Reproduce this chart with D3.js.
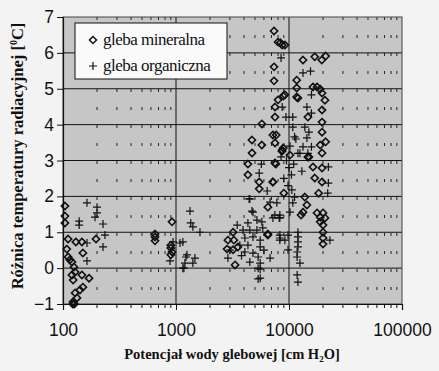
<!DOCTYPE html>
<html>
<head>
<meta charset="utf-8">
<script src="https://cdn.jsdelivr.net/npm/d3@7"></script>
<style>
  body { margin: 0; background: #f3f3f3; }
  svg { display: block; }
</style>
</head>
<body>
<svg id="chart"></svg>
<script>
// gleba mineralna (diamonds)
const mineralX = [104,104,104,111,130,147,196,108,150,111,115,120,125,128,120,147,170,123,150,141,128,133,123,126,122,
  652,652,652,922,900,900,922,900,
  4708,4330,4330,5450,5450,7200,6500,8660,7650,3200,2880,3250,2830,3200,3530,3330,6500,6500,
  7370,8000,8400,8700,9200,7370,7370,13300,16900,19500,21100,11700,11700,11700,16300,17700,18900,19600,20800,
  8900,8000,7520,7520,12000,19600,19600,19600,21100,5750,14700,7700,7520,8900,5750,4700,18900,14700,9200,7200,8700,10200,
  19600,15000,16300,19600,16900,19600,18300,13800,14400,13300,12800,9000,7500,7200,17700,20000,18900,20800,18900,20000,20000,20000,20000];
const mineralY = [1.73,1.45,1.26,0.81,0.73,0.73,0.81,0.53,0.42,0.31,0.23,0.17,0.03,-0.11,-0.19,-0.19,-0.28,-0.33,-0.53,-0.61,-0.69,-0.83,-0.94,-1.0,-1.0,
  0.95,0.87,0.76,1.29,0.64,0.56,0.45,0.37,
  3.21,2.9,2.6,2.4,2.21,2.4,1.7,3.26,2.9,1.0,0.78,0.78,0.53,0.51,0.59,0.09,0.92,0.95,
  6.61,6.3,6.28,6.22,6.22,5.61,5.22,5.8,5.89,5.8,5.91,5.24,5.02,4.77,5.05,5.05,4.99,4.88,4.68,
  4.8,4.69,4.49,4.21,4.74,4.41,4.07,3.79,3.52,4.02,4.21,3.71,3.49,3.35,3.43,3.57,3.43,3.1,4.83,3.71,3.29,3.15,
  3.21,3.1,2.82,2.79,2.51,2.4,2.09,1.98,1.76,1.56,1.48,2.09,2.93,2.4,1.54,1.54,1.42,1.4,1.29,1.2,1.0,0.84,0.67];

// gleba organiczna (plus signs)
const organicX = [163,200,200,192,139,139,226,235,226,163,163,
  941,1085,1225,1200,1175,885,1330,1350,1410,1630,1150,1250,1470,1410,1150,
  5690,5450,6410,4500,4700,6800,7500,8300,3480,4330,5200,5750,3920,4500,5200,5860,4070,4800,5560,3670,4330,5560,
  4070,4800,5330,6800,2880,4500,5560,5330,5560,8300,5330,5560,4800,4440,3000,3800,6000,
  8500,13300,15500,15800,8700,14400,9400,10800,15800,10800,13800,11200,15000,14400,13300,15800,12500,14700,
  22300,22300,22000,10600,11200,10800,10200,7800,8300,7200,8200,12000,12000,12000,12000,11800,11800,12500,11800,12000,
  9800,9200,8300,23000,9500,10000,10500,9000,11000,9800,12000,13000,8500,10200,11500,8300,9800];
const organicY = [1.82,1.7,1.54,1.42,1.31,1.2,1.23,0.92,0.59,0.7,0.2,
  0.73,0.7,0.31,0.14,0.0,0.2,1.59,1.26,1.15,1.0,0.73,0.37,0.28,0.14,0.0,
  2.9,2.65,2.15,1.93,1.59,1.84,1.48,1.4,1.2,1.26,1.34,1.29,1.06,1.06,1.06,1.12,0.84,0.87,0.78,0.64,0.64,0.59,
  0.45,0.42,0.31,0.28,0.28,0.17,0.14,0.0,-0.28,0.78,-0.3,-0.03,1.56,1.93,0.5,0.35,0.5,
  5.86,5.44,5.49,4.83,4.49,4.49,4.21,4.21,4.32,3.93,3.93,3.66,3.79,3.63,3.38,3.38,3.2,3.2,
  2.82,2.37,2.09,2.18,1.98,1.82,1.56,1.82,1.48,1.4,1.4,1.0,0.87,0.73,0.59,0.45,0.31,0.14,-0.19,-0.39,
  0.92,0.78,0.92,0.78,3.0,2.8,2.6,2.5,2.9,2.3,3.2,2.7,3.1,3.4,3.6,0.84,0.51];

const xTicks = [100, 1000, 10000, 100000];
const yTicks = [-1, 0, 1, 2, 3, 4, 5, 6, 7];
const seriesNames = ["gleba mineralna", "gleba organiczna"];

const width = 439, height = 371;
const margin = {top: 17, right: 37, bottom: 67, left: 63};
const serif = "'Liberation Serif', 'Times New Roman', serif";
const sans = "'Liberation Sans', Arial, sans-serif";

const svg = d3.select("#chart")
  .attr("width", width)
  .attr("height", height);

const x = d3.scaleLog()
  .domain([100, 100000])
  .range([margin.left, width - margin.right]);
const y = d3.scaleLinear()
  .domain([-1, 7])
  .range([height - margin.bottom, margin.top]);

// plot background
svg.append("rect")
  .attr("x", x(100)).attr("y", y(7))
  .attr("width", x(100000) - x(100))
  .attr("height", y(-1) - y(7))
  .attr("fill", "#c6c6c6");

// minor vertical gridlines, dotted
const minor = [];
for (let d = 100; d < 100000; d *= 10) {
  for (let k = 2; k <= 9; k++) minor.push(d * k);
}
svg.append("g")
  .selectAll("line")
  .data(minor)
  .join("line")
  .attr("x1", d => x(d)).attr("x2", d => x(d))
  .attr("y1", y(7)).attr("y2", y(-1))
  .attr("stroke", "#222")
  .attr("stroke-width", 1)
  .attr("stroke-dasharray", "3,15");

// major gridlines
svg.append("g")
  .selectAll("line")
  .data(yTicks.slice(1, -1))
  .join("line")
  .attr("x1", x(100)).attr("x2", x(100000))
  .attr("y1", d => y(d)).attr("y2", d => y(d))
  .attr("stroke", "#111");
svg.append("g")
  .selectAll("line")
  .data(xTicks.slice(1, -1))
  .join("line")
  .attr("x1", d => x(d)).attr("x2", d => x(d))
  .attr("y1", y(7)).attr("y2", y(-1))
  .attr("stroke", "#111");

// frame
svg.append("rect")
  .attr("x", x(100)).attr("y", y(7))
  .attr("width", x(100000) - x(100))
  .attr("height", y(-1) - y(7))
  .attr("fill", "none")
  .attr("stroke", "#444");

// axes
const xAxis = svg.append("g")
  .attr("transform", `translate(0,${y(-1)})`)
  .call(d3.axisBottom(x).tickValues(xTicks).tickFormat(d3.format("d")).tickSize(6).tickPadding(14));
svg.append("g")
  .attr("transform", `translate(0,${y(-1)})`)
  .selectAll("line")
  .data(minor)
  .join("line")
  .attr("x1", d => x(d)).attr("x2", d => x(d))
  .attr("y1", 0).attr("y2", 4)
  .attr("stroke", "#111");
const yAxis = svg.append("g")
  .attr("transform", `translate(${x(100)},0)`)
  .call(d3.axisLeft(y).tickValues(yTicks).tickSize(6).tickPadding(3));

[xAxis, yAxis].forEach(a => {
  a.select(".domain").attr("stroke", "#111").attr("stroke-width", 1.2);
  a.selectAll(".tick line").attr("stroke", "#111");
  a.selectAll("text")
    .attr("font-family", sans)
    .attr("font-size", 17.5)
    .attr("fill", "#111");
});

// points
const diamond = "M0,-3.6L3.6,0L0,3.6L-3.6,0Z";
const plus = "M-4,0H4M0,-4V4";

svg.append("g")
  .selectAll("path")
  .data(organicX.map((d, i) => [d, organicY[i]]))
  .join("path")
  .attr("transform", d => `translate(${x(d[0])},${y(d[1])})`)
  .attr("d", plus)
  .attr("stroke", "#111")
  .attr("stroke-width", 1.2)
  .attr("fill", "none");

svg.append("g")
  .selectAll("path")
  .data(mineralX.map((d, i) => [d, mineralY[i]]))
  .join("path")
  .attr("transform", d => `translate(${x(d[0])},${y(d[1])})`)
  .attr("d", diamond)
  .attr("stroke", "#111")
  .attr("stroke-width", 1.6)
  .attr("fill", "none");

// legend
const legend = svg.append("g").attr("transform", "translate(75,23)");
legend.append("rect")
  .attr("width", 152).attr("height", 56)
  .attr("fill", "#fafafa")
  .attr("stroke", "#111");
const leg = legend.selectAll("g.item")
  .data(seriesNames)
  .join("g")
  .attr("class", "item")
  .attr("transform", (d, i) => `translate(18,${17 + i * 26})`);
leg.append("path")
  .attr("d", (d, i) => i === 0 ? "M0,-3.5L3.5,0L0,3.5L-3.5,0Z" : plus)
  .attr("stroke", "#111")
  .attr("stroke-width", (d, i) => i === 0 ? 1.5 : 1.2)
  .attr("fill", "none");
leg.append("text")
  .attr("x", 10).attr("y", 5)
  .attr("font-family", serif)
  .attr("font-size", 17)
  .attr("letter-spacing", -0.5)
  .attr("fill", "#111")
  .text(d => d);

// axis titles
const xTitle = svg.append("text")
  .attr("x", 232).attr("y", 359)
  .attr("text-anchor", "middle")
  .attr("font-family", serif)
  .attr("font-weight", "bold")
  .attr("font-size", 14.5)
  .attr("fill", "#111");
xTitle.append("tspan").text("Potencjał wody glebowej  [cm H");
xTitle.append("tspan").attr("font-size", 9).attr("dy", 3).text("2");
xTitle.append("tspan").attr("dy", -3).text("O]");

const yTitle = svg.append("text")
  .attr("transform", "translate(23,156) rotate(-90)")
  .attr("text-anchor", "middle")
  .attr("font-family", serif)
  .attr("font-weight", "bold")
  .attr("font-size", 16.5)
  .attr("fill", "#111");
yTitle.append("tspan").text("Różnica temperatury radiacyjnej [");
yTitle.append("tspan").attr("font-size", 10).attr("dy", -6).text("0");
yTitle.append("tspan").attr("dy", 6).text("C]");
</script>
</body>
</html>
